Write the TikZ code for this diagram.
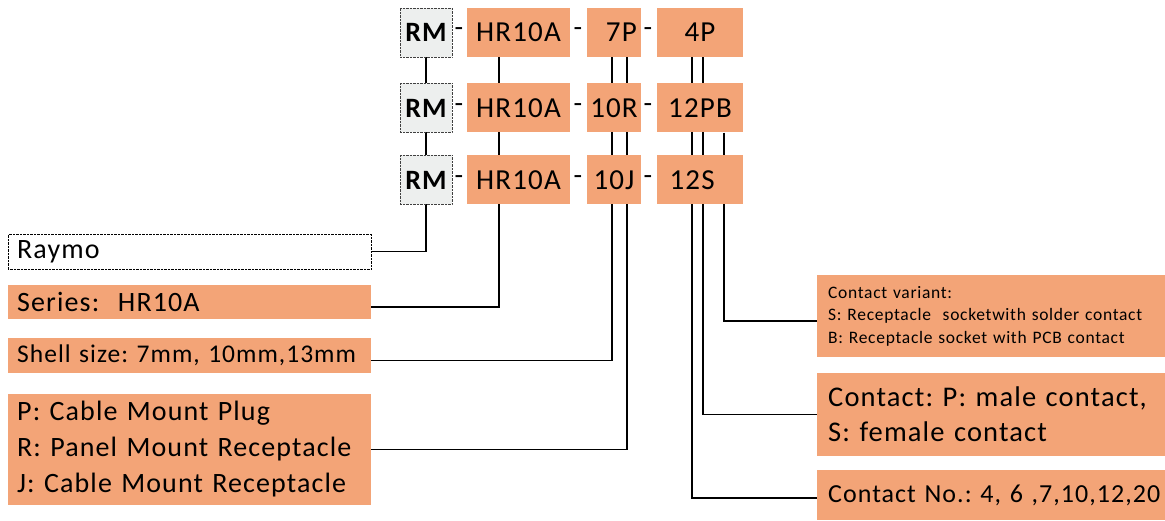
\documentclass[tikz,border=0pt]{standalone}
\usepackage{fontspec}
\setmainfont{Carlito}[LetterSpace=4, WordSpace=0.85]
\usetikzlibrary{backgrounds}
\definecolor{salmon}{HTML}{F3A477}
\definecolor{rmgrey}{HTML}{EDEFEE}
\tikzset{
  rmbox/.style={draw=black!75, densely dotted, fill=rmgrey, minimum width=52pt, minimum height=49pt, inner sep=0pt, font=\fontsize{28}{30}\selectfont\bfseries},
  codebox/.style={fill=salmon, minimum height=49pt, inner sep=0pt, font=\fontsize{29}{30}\selectfont},
  dashsep/.style={inner sep=0pt, font=\fontsize{28}{30}\selectfont},
  leftinfo/.style={fill=salmon, anchor=west, text width=345pt, inner xsep=9pt, inner ysep=0pt, align=left},
  rightinfo/.style={fill=salmon, anchor=west, text width=400pt, inner xsep=11pt, inner ysep=0pt, align=left},
  link/.style={draw=black, line width=1.6pt}
}
\frenchspacing
\begin{document}
\begin{tikzpicture}[x=1pt,y=1pt]
    \useasboundingbox (0,0) rectangle (1165,520);

    % the three part numbers
    \foreach \row/\y/\sz/\ct in {A/487.5/\phantom{1}7P/4P, B/412/10R/12PB, C/340/10J/12S\phantom{B}}{
        \node[rmbox] (rm\row) at (426,\y) {RM};
        \node[dashsep] (da\row) at (459,\y) {-};
        \node[codebox, minimum width=103pt] (hr\row) at (518.5,\y) {HR10A};
        \node[dashsep] (db\row) at (578,\y) {-};
        \node[codebox, minimum width=54pt] (sz\row) at (614,\y) {\sz};
        \node[dashsep] (dc\row) at (648,\y) {-};
        \node[codebox, minimum width=86pt] (ct\row) at (700,\y) {\ct};
    }

    % explanations, left
    \node[draw=black, densely dotted, fill=white, anchor=west, text width=345pt, inner xsep=9pt, minimum height=35pt, align=left,
          font=\fontsize{28}{30}\selectfont] (raymo) at (8,268.5) {Raymo};
    \node[leftinfo, minimum height=34pt, font=\fontsize{28}{30}\selectfont] (series) at (8,218) {Series:\ \ HR10A};
    \node[leftinfo, minimum height=35pt, font=\fontsize{25.5}{30}\selectfont] (shell) at (8,164.5) {Shell size: 7mm, 10mm,13mm};
    \node[leftinfo, minimum height=111pt, font=\fontsize{28}{36}\selectfont] (mount) at (8,70.5)
        {P: Cable Mount Plug\\R: Panel Mount Receptacle\\J: Cable Mount Receptacle};

    % explanations, right
    \node[rightinfo, minimum height=82pt, font=\fontsize{17.5}{22.5}\selectfont] (variant) at (817,204)
        {Contact variant:\\S: Receptacle\ \ socketwith solder contact\\B: Receptacle socket with PCB contact};
    \node[rightinfo, minimum height=83pt, font=\fontsize{28.5}{35}\selectfont] (contact) at (817,105.5)
        {Contact: P: male contact,\\S: female contact};
    \node[rightinfo, minimum height=50pt, font=\fontsize{26}{30}\selectfont] (number) at (817,25)
        {Contact No.: 4, 6 ,7,10,12,20};

    \coordinate (hrline) at (499,0);
    \coordinate (szline1) at (612,0);
    \coordinate (szline2) at (627,0);
    \coordinate (ctline1) at (692,0);
    \coordinate (ctline2) at (703,0);
    \coordinate (ctline3) at (724,0);

    \begin{scope}[on background layer]
        \draw[link] (rmA.south) |- (raymo.east);
        \draw[link] (hrA.south -| hrline) |- ([yshift=-5pt]series.east);
        \draw[link] (szA.south -| szline1) |- ([yshift=-5pt]shell.east);
        \draw[link] (szA.south -| szline2) |- (mount.east);
        \draw[link] (ctA.south -| ctline1) |- ([yshift=-3pt]number.west);
        \draw[link] (ctA.south -| ctline2) |- (contact.west);
        \draw[link] (ctB.south -| ctline3) |- ([yshift=-5pt]variant.west);
    \end{scope}
\end{tikzpicture}
\end{document}
